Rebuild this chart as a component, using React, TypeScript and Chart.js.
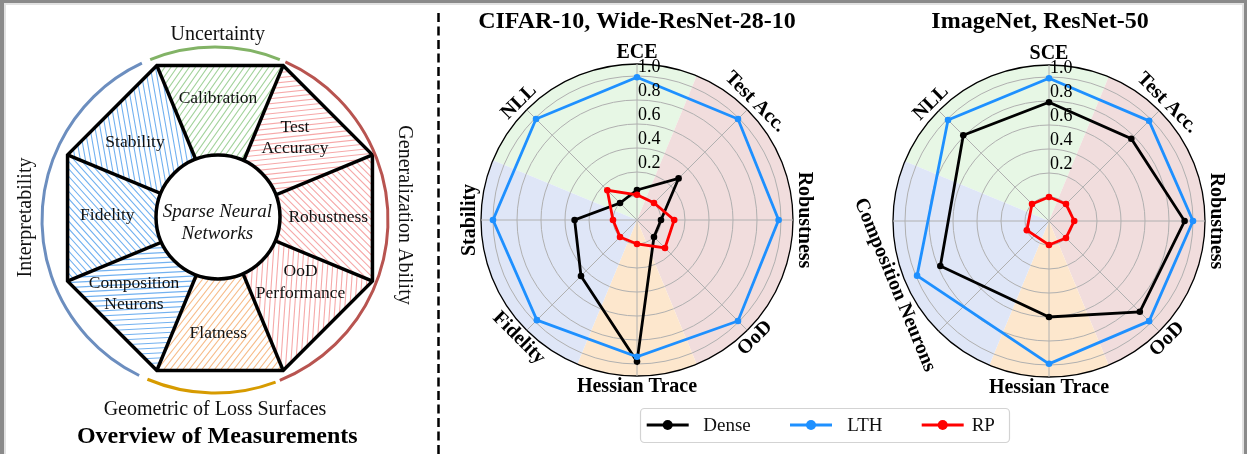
import React, { useEffect, useRef } from 'react';
import { Chart, registerables } from 'chart.js';

Chart.register(...registerables);

const FONT = '"Liberation Serif", "Times New Roman", serif';

// ---------------- Overview diagram (left) ----------------
const measurementNames = ['Calibration', 'Test Accuracy', 'Robustness', 'OoD Performance', 'Flatness', 'Composition Neurons', 'Fidelity', 'Stability'];
const measurementLines = [['Calibration'], ['Test', 'Accuracy'], ['Robustness'], ['OoD', 'Performance'], ['Flatness'], ['Composition', 'Neurons'], ['Fidelity'], ['Stability']];
const measurementGroups = ['Uncertainty', 'Generalization', 'Generalization', 'Generalization', 'Geometry', 'Interpretability', 'Interpretability', 'Interpretability'];
const measurementWeights = [1, 1, 1, 1, 1, 1, 1, 1];
const groupTitles = ['Uncertainty', 'Generalization Ability', 'Geometric of Loss Surfaces', 'Interpretability'];

// ---------------- Radar data ----------------
const seriesNames = ['Dense', 'LTH', 'RP'];

const cifarAxes = ['ECE', 'Test Acc.', 'Robustness', 'OoD', 'Hessian Trace', 'Fidelity', 'Stability', 'NLL'];
const cifarAxisSlots = [0, 2, 4, 6, 8, 10, 12, 14];
const cifarDense = [0.05, 0.29, 0.0, 0.0, 0.98, 0.46, 0.32, 0.0];
const cifarLTH = [0.99, 0.99, 0.98, 0.99, 0.94, 0.98, 1.0, 0.99];
const cifarRP = [0.01, 0.0, 0.11, 0.13, 0.0, 0.0, 0.0, 0.15];

const imagenetAxes = ['SCE', 'Test Acc.', 'Robustness', 'OoD', 'Hessian Trace', 'Composition Neurons', 'NLL'];
const imagenetAxisSlots = [0, 2, 4, 6, 8, 11, 14];
const imagenetDense = [0.79, 0.77, 0.93, 0.87, 0.6, 0.78, 0.81];
const imagenetLTH = [0.99, 0.98, 1.0, 0.98, 0.99, 0.99, 0.99];
const imagenetRP = [0.0, 0.0, 0.01, 0.0, 0.0, 0.0, 0.0];

const radialTicks = [-0.2, 0, 0.2, 0.4, 0.6, 0.8, 1.0, 1.1];
const tickLabels = ['0.2', '0.4', '0.6', '0.8', '1.0'];

// ---------------- Styles / layout ----------------
const SLOTS = 16;
const seriesColors = ['#000000', '#1e90ff', '#ff0000'];
const seriesOrder = [3, 2, 1];

const wedgeStyles = [
  { from: -3, to: 1, color: '#e7f7e5' },
  { from: 1, to: 7, color: '#f1dddd' },
  { from: 7, to: 9, color: '#fde7cd' },
  { from: 9, to: 13, color: '#dfe6f7' },
];

const groupHatch: Record<string, string> = {
  Uncertainty: '#a3d39c',
  Generalization: '#f6a9a9',
  Geometry: '#f7bd8b',
  Interpretability: '#72b1f0',
};
const hatchAngles = [55, 6, 135, 86, 52, 3, 132, 100];

const arcStyles = [
  { from: -22, to: 22, color: '#82b366' },
  { from: 24, to: 158, color: '#b85450' },
  { from: 159.5, to: 203, color: '#d79b00' },
  { from: 206, to: 335, color: '#6c8ebf' },
];

const sectorLabelPos = [
  [218, 103.3], [295, 131.7], [328.3, 221.7], [300.5, 276], [218.3, 337.7], [134, 287.7], [107.3, 220], [135, 146.7],
];

function toSlots(values: number[], slots: number[]) {
  const arr: (number | null)[] = new Array(SLOTS).fill(null);
  slots.forEach((s, i) => (arr[s] = values[i]));
  return arr;
}

function hatchPolygon(ctx: CanvasRenderingContext2D, pts: { x: number; y: number }[], color: string, angleDeg: number, spacing: number) {
  const xs = pts.map((p) => p.x);
  const ys = pts.map((p) => p.y);
  const minx = Math.min(...xs), maxx = Math.max(...xs), miny = Math.min(...ys), maxy = Math.max(...ys);
  const mx = (minx + maxx) / 2, my = (miny + maxy) / 2;
  const L = Math.hypot(maxx - minx, maxy - miny);
  const a = (angleDeg * Math.PI) / 180;
  const dx = Math.cos(a), dy = -Math.sin(a);
  const nx = -dy, ny = dx;
  ctx.save();
  ctx.beginPath();
  pts.forEach((p, i) => (i ? ctx.lineTo(p.x, p.y) : ctx.moveTo(p.x, p.y)));
  ctx.closePath();
  ctx.clip();
  ctx.strokeStyle = color;
  ctx.lineWidth = 1.1;
  ctx.beginPath();
  for (let t = -L; t <= L; t += spacing) {
    const ox = mx + nx * t, oy = my + ny * t;
    ctx.moveTo(ox - dx * L, oy - dy * L);
    ctx.lineTo(ox + dx * L, oy + dy * L);
  }
  ctx.stroke();
  ctx.restore();
}

const overviewPlugin = {
  id: 'overview',
  beforeDraw(chart: any) {
    const s = chart.scales.r;
    const ctx = chart.ctx as CanvasRenderingContext2D;
    const R = s.drawingArea;
    const c = { x: s.xCenter, y: s.yCenter };
    for (let k = 0; k < measurementNames.length; k++) {
      const p1 = s.getPointPosition(k, R);
      const p2 = s.getPointPosition((k + 1) % measurementNames.length, R);
      hatchPolygon(ctx, [c, p1, p2], groupHatch[measurementGroups[k]], hatchAngles[k], 5);
    }
  },
  afterDraw(chart: any) {
    const s = chart.scales.r;
    const ctx = chart.ctx as CanvasRenderingContext2D;
    const cx = s.xCenter, cy = s.yCenter;
    ctx.save();
    // inner circle
    ctx.beginPath();
    ctx.arc(cx - 2, cy - 1, 62, 0, Math.PI * 2);
    ctx.fillStyle = '#fff';
    ctx.fill();
    ctx.lineWidth = 3.5;
    ctx.strokeStyle = '#000';
    ctx.stroke();

    ctx.fillStyle = '#111';
    ctx.textAlign = 'center';
    ctx.textBaseline = 'alphabetic';
    ctx.font = `italic 19px ${FONT}`;
    ctx.fillText('Sparse Neural', 217.3, 216.7);
    ctx.fillText('Networks', 217.3, 239.3);

    ctx.font = `17.5px ${FONT}`;
    measurementLines.forEach((lines, k) => {
      const [x, y] = sectorLabelPos[k];
      lines.forEach((t, j) => {
        ctx.fillText(t, x, y + (j - (lines.length - 1)) * 0 + j * 21.5);
      });
    });

    // outer arcs
    arcStyles.forEach((a) => {
      ctx.beginPath();
      ctx.arc(cx - 5, cy + 2, 173, ((a.from - 90) * Math.PI) / 180, ((a.to - 90) * Math.PI) / 180);
      ctx.strokeStyle = a.color;
      ctx.lineWidth = 3;
      ctx.stroke();
    });

    // group titles
    ctx.fillStyle = '#111';
    ctx.font = `20px ${FONT}`;
    ctx.fillText(groupTitles[0], 217.7, 39.5);
    ctx.fillText(groupTitles[2], 215, 415);
    ctx.save();
    ctx.translate(399, 215);
    ctx.rotate(Math.PI / 2);
    ctx.fillText(groupTitles[1], 0, 0);
    ctx.restore();
    ctx.save();
    ctx.translate(31, 217.5);
    ctx.rotate(-Math.PI / 2);
    ctx.fillText(groupTitles[3], 0, 0);
    ctx.restore();
    ctx.font = `bold 24px ${FONT}`;
    ctx.fillStyle = '#000';
    ctx.fillText('Overview of Measurements', 217.3, 443.3);

    // dashed divider
    ctx.beginPath();
    ctx.setLineDash([9, 4.5]);
    ctx.moveTo(438.5, 13);
    ctx.lineTo(438.5, 454);
    ctx.strokeStyle = '#000';
    ctx.lineWidth = 2.5;
    ctx.stroke();
    ctx.restore();
  },
};

function overviewConfig(): any {
  return {
    type: 'radar',
    data: {
      labels: measurementNames,
      datasets: [
        { data: measurementWeights, borderWidth: 0, pointRadius: 0, backgroundColor: 'rgba(0,0,0,0)', fill: false },
      ],
    },
    options: {
      responsive: false,
      animation: false,
      layout: { padding: { left: 55, right: 57, top: 53, bottom: 71 } },
      plugins: { legend: { display: false }, tooltip: { enabled: false } },
      scales: {
        r: {
          min: 0,
          max: 1,
          startAngle: -22.5,
          afterBuildTicks: (sc: any) => {
            sc.ticks = [{ value: 0 }, { value: 1 }];
          },
          ticks: { display: false },
          pointLabels: { display: false },
          grid: { circular: false, color: '#000', lineWidth: 3.5 },
          angleLines: { color: '#000', lineWidth: 3.5 },
        },
      },
    },
    plugins: [overviewPlugin],
  };
}

type RadarOpts = {
  title: string;
  titleX: number;
  axes: string[];
  slots: number[];
  series: number[][];
  padding: { left: number; right: number; top: number; bottom: number };
  legend?: { x: number; y: number; w: number; h: number; lineStart: number[]; textX: number[] };
};

function radarPlugin(o: RadarOpts) {
  return {
    id: 'radarDeco',
    beforeDraw(chart: any) {
      const s = chart.scales.r;
      const ctx = chart.ctx as CanvasRenderingContext2D;
      const base = s.getIndexAngle(0) - Math.PI / 2;
      const step = (Math.PI * 2) / SLOTS;
      ctx.save();
      wedgeStyles.forEach((w) => {
        ctx.beginPath();
        ctx.moveTo(s.xCenter, s.yCenter);
        ctx.arc(s.xCenter, s.yCenter, s.drawingArea, base + w.from * step, base + w.to * step);
        ctx.closePath();
        ctx.fillStyle = w.color;
        ctx.fill();
      });
      ctx.restore();
    },
    afterDraw(chart: any) {
      const s = chart.scales.r;
      const ctx = chart.ctx as CanvasRenderingContext2D;
      const cx = s.xCenter, cy = s.yCenter, R = s.drawingArea;
      ctx.save();
      // radial tick labels
      ctx.fillStyle = '#000';
      ctx.font = `18px ${FONT}`;
      ctx.textAlign = 'left';
      ctx.textBaseline = 'alphabetic';
      tickLabels.forEach((t) => {
        const d = s.getDistanceFromCenterForValue(parseFloat(t));
        ctx.fillText(t, cx + 1, cy - d - 4);
      });
      // axis labels
      ctx.font = `bold 20px ${FONT}`;
      ctx.textAlign = 'center';
      ctx.textBaseline = 'middle';
      o.axes.forEach((name, i) => {
        const slot = o.slots[i];
        const p = s.getPointPosition(slot, R + 11);
        const deg = (slot * 360) / SLOTS;
        const rot = deg > 90 && deg < 270 ? deg - 180 : deg;
        ctx.save();
        ctx.translate(p.x, p.y);
        ctx.rotate((rot * Math.PI) / 180);
        ctx.fillText(name, 0, 0);
        ctx.restore();
      });
      // title
      ctx.font = `bold 24px ${FONT}`;
      ctx.fillText(o.title, o.titleX, 22);
      // legend
      if (o.legend) {
        const lg = o.legend;
        ctx.beginPath();
        ctx.roundRect(lg.x + 0.5, lg.y + 0.5, lg.w, lg.h, 4);
        ctx.fillStyle = 'rgba(255,255,255,0.9)';
        ctx.fill();
        ctx.strokeStyle = '#d3d3d3';
        ctx.lineWidth = 1.2;
        ctx.stroke();
        const midY = lg.y + lg.h / 2;
        const ds = chart.data.datasets;
        ds.forEach((d: any, i: number) => {
          const x0 = lg.lineStart[i];
          ctx.beginPath();
          ctx.moveTo(x0, midY);
          ctx.lineTo(x0 + 42, midY);
          ctx.strokeStyle = d.borderColor;
          ctx.lineWidth = 3;
          ctx.stroke();
          ctx.beginPath();
          ctx.arc(x0 + 21, midY, 5, 0, Math.PI * 2);
          ctx.fillStyle = d.borderColor;
          ctx.fill();
          ctx.fillStyle = '#111';
          ctx.font = `19px ${FONT}`;
          ctx.textAlign = 'left';
          ctx.textBaseline = 'middle';
          ctx.fillText(d.label, lg.textX[i], midY + 1);
        });
      }
      ctx.restore();
    },
  };
}

function radarConfig(o: RadarOpts): any {
  const labels = Array.from({ length: SLOTS }, (_, i) => {
    const k = o.slots.indexOf(i);
    return k >= 0 ? o.axes[k] : '';
  });
  return {
    type: 'radar',
    data: {
      labels,
      datasets: seriesNames.map((name, i) => ({
        label: name,
        data: toSlots(o.series[i], o.slots),
        borderColor: seriesColors[i],
        backgroundColor: seriesColors[i],
        pointBackgroundColor: seriesColors[i],
        pointBorderColor: seriesColors[i],
        pointBorderWidth: 0,
        pointRadius: 3.3,
        borderWidth: 2.8,
        fill: false,
        spanGaps: true,
        tension: 0,
        order: seriesOrder[i],
      })),
    },
    options: {
      responsive: false,
      animation: false,
      layout: { padding: o.padding },
      plugins: { legend: { display: false }, tooltip: { enabled: false } },
      scales: {
        r: {
          min: -0.2,
          max: 1.1,
          startAngle: 0,
          afterBuildTicks: (sc: any) => {
            sc.ticks = radialTicks.map((v) => ({ value: v }));
          },
          ticks: { display: false },
          pointLabels: { display: false },
          grid: {
            circular: true,
            color: (c: any) => (c.index === radialTicks.length - 1 ? '#000' : '#b0b0b0'),
            lineWidth: (c: any) => (c.index === radialTicks.length - 1 ? 1.3 : 1),
          },
          angleLines: {
            color: '#b0b0b0',
            lineWidth: (c: any) => (c.index % 2 === 0 ? 1 : 0),
          },
        },
      },
    },
    plugins: [radarPlugin(o)],
  };
}

export default function App() {
  const leftRef = useRef<HTMLCanvasElement>(null);
  const r1Ref = useRef<HTMLCanvasElement>(null);
  const r2Ref = useRef<HTMLCanvasElement>(null);

  useEffect(() => {
    const charts: Chart[] = [];
    charts.push(new Chart(leftRef.current as HTMLCanvasElement, overviewConfig()));
    charts.push(
      new Chart(
        r1Ref.current as HTMLCanvasElement,
        radarConfig({
          title: 'CIFAR-10, Wide-ResNet-28-10',
          titleX: 197,
          axes: cifarAxes,
          slots: cifarAxisSlots,
          series: [cifarDense, cifarLTH, cifarRP],
          padding: { left: 41, right: 454, top: 64, bottom: 78 },
          legend: { x: 200, y: 408, w: 369, h: 34, lineStart: [206.7, 350, 481.7], textX: [263.3, 407.3, 531.7] },
        })
      )
    );
    charts.push(
      new Chart(
        r2Ref.current as HTMLCanvasElement,
        radarConfig({
          title: 'ImageNet, ResNet-50',
          titleX: 195,
          axes: imagenetAxes,
          slots: imagenetAxisSlots,
          series: [imagenetDense, imagenetLTH, imagenetRP],
          padding: { left: 48, right: 42, top: 65, bottom: 23 },
        })
      )
    );
    return () => charts.forEach((c) => c.destroy());
  }, []);

  const abs = (l: number, t: number, w: number, h: number, bg: string): React.CSSProperties => ({
    position: 'absolute', left: l, top: t, width: w, height: h, background: bg, zIndex: 10,
  });

  return (
    <div style={{ position: 'absolute', left: 0, top: 0, width: 1247, height: 454, background: '#fff', overflow: 'hidden' }}>
      <canvas ref={leftRef} width={442} height={454} style={{ position: 'absolute', left: 0, top: 0, width: 442, height: 454 }} />
      <canvas ref={r1Ref} width={807} height={454} style={{ position: 'absolute', left: 440, top: 0, width: 807, height: 454 }} />
      <canvas ref={r2Ref} width={402} height={400} style={{ position: 'absolute', left: 845, top: 0, width: 402, height: 400 }} />
      <div style={abs(0, 0, 1247, 3, '#8a8a8a')} />
      <div style={abs(4, 3, 1238, 2, '#e2e2e2')} />
      <div style={abs(0, 0, 4, 454, '#8a8a8a')} />
      <div style={abs(4, 3, 2, 451, '#e2e2e2')} />
      <div style={abs(1244, 0, 3, 454, '#8a8a8a')} />
      <div style={abs(1242, 3, 2, 451, '#e2e2e2')} />
    </div>
  );
}
